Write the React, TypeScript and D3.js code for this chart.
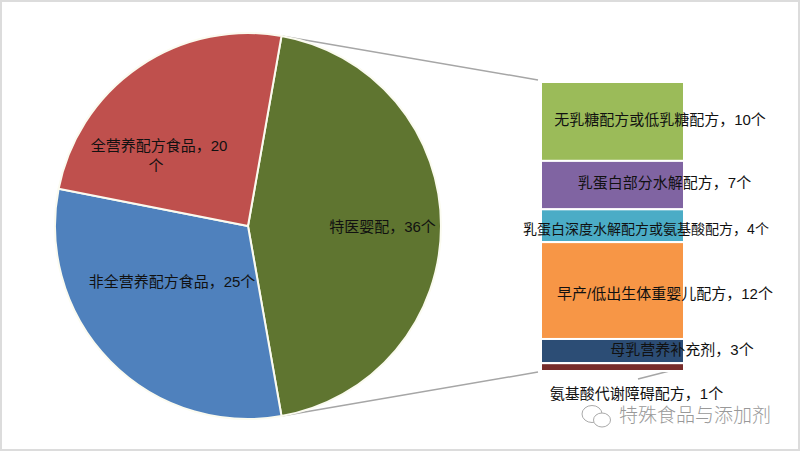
import React from 'react';
import * as d3 from 'd3';

const mainLabels = ['特医婴配，36个', '非全营养配方食品，25个', '全营养配方食品，20', '个'];
const mainValues = [36, 25, 20];
const mainColors = ['#5f7530', '#4f81bd', '#bf504d'];
// Stack heights (the drawn bars differ slightly from the labelled counts).
const stackValues = [10.1, 6.2, 4.2, 12.4, 3.1, 1.0];
const stackColors = ['#9bbb59', '#8064a2', '#4bacc6', '#f79646', '#2c4d75', '#772c2a'];
const stackLabels = ['无乳糖配方或低乳糖配方，10个', '乳蛋白部分水解配方，7个', '乳蛋白深度水解配方或氨基酸配方，4个', '早产/低出生体重婴儿配方，12个', '母乳营养补充剂，3个', '氨基酸代谢障碍配方，1个'];
const stackLabelX = [660, 664.5, 646, 665, 682, 636.5];
const stackLabelY = [125, 188, 234, 299, 355, 399];
const stackLabelSize = [15, 15, 14, 15, 15, 15];

export default function App() {
  const cx = 248, cy = 226, r = 193;
  const start = (10 / 180) * Math.PI;
  const pie = d3.pie<number>().sort(null).startAngle(start).endAngle(start + 2 * Math.PI);
  const arcs = pie(mainValues);
  const arc = d3.arc<d3.PieArcDatum<number>>().innerRadius(0).outerRadius(r);
  const sx = 541, sw = 143, top = 82, bottom = 371;
  const y = d3.scaleLinear().domain([0, d3.sum(stackValues)]).range([top, bottom]);
  let acc = 0;
  const font = '"Liberation Sans", "Noto Sans CJK SC", sans-serif';
  const p0 = [cx + r * Math.sin(start), cy - r * Math.cos(start)];
  const p1 = [cx + r * Math.sin(arcs[0].endAngle), cy - r * Math.cos(arcs[0].endAngle)];
  return (
    <svg width={800} height={451} style={{ position: 'absolute', left: 0, top: 0, background: '#fff', fontFamily: font }}>
      <rect x={1} y={1} width={798} height={449} fill="#fff" stroke="#dcdcdc" strokeWidth={2} />
      <line x1={p0[0]} y1={p0[1]} x2={sx - 3} y2={top - 2} stroke="#a6a6a6" strokeWidth={1.5} />
      <line x1={p1[0]} y1={p1[1]} x2={sx - 3} y2={bottom + 1} stroke="#a6a6a6" strokeWidth={1.5} />
      <line x1={638} y1={379} x2={685} y2={367} stroke="#a6a6a6" strokeWidth={1.5} />
      <g transform={`translate(${cx},${cy})`}>
        {arcs.map((a, i) => <path key={i} d={arc(a) || ''} fill={mainColors[i]} stroke="#fbfbf0" strokeWidth={2} />)}
      </g>
      {stackValues.map((v, i) => {
        const y0 = y(acc); acc += v; const y1 = y(acc);
        return <rect key={i} x={sx} y={y0} width={sw} height={y1 - y0} fill={stackColors[i]} stroke="#fff" strokeWidth={2} />;
      })}
      <g fontSize={15} fill="#111" textAnchor="middle">
        <text x={382.5} y={232}>{mainLabels[0]}</text>
        <text x={172} y={287}>{mainLabels[1]}</text>
        <text x={159} y={151}>{mainLabels[2]}</text>
        <text x={156} y={171}>{mainLabels[3]}</text>
        {stackLabels.map((t, i) => <text key={i} x={stackLabelX[i]} y={stackLabelY[i]} fontSize={stackLabelSize[i]}>{t}</text>)}
      </g>
      <g fill="#fff" stroke="#aaa" strokeWidth={1}>
        <ellipse cx={592} cy={414} rx={10} ry={8.5} />
        <ellipse cx={602} cy={420} rx={8.5} ry={7} />
      </g>
      <text x={695} y={422} fontSize={19} fontWeight={300} fill="#999" textAnchor="middle">特殊食品与添加剂</text>
    </svg>
  );
}
